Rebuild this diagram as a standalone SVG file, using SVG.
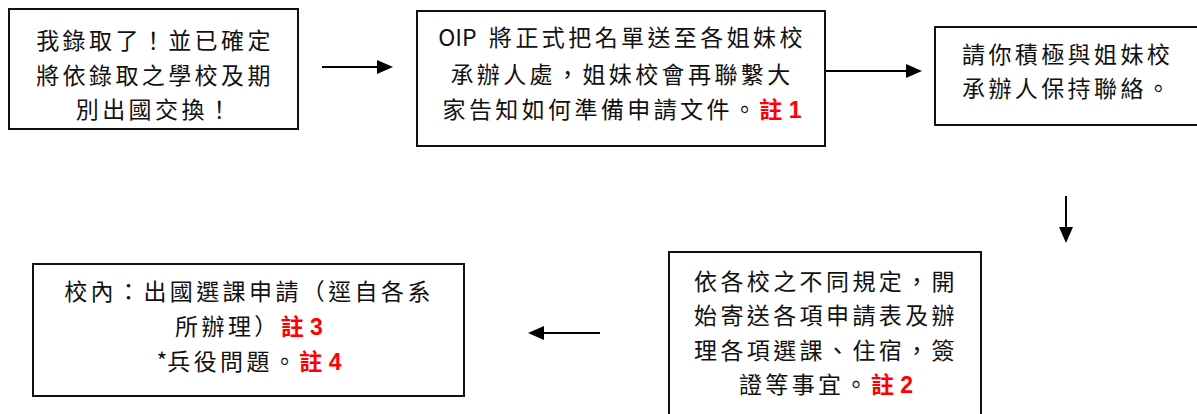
<svg xmlns="http://www.w3.org/2000/svg" width="1197" height="414" viewBox="0 0 1197 414">
<style>
.box{fill:#fff;stroke:#111;stroke-width:2}
.t{font-family:"Noto Sans CJK TC","Noto Sans CJK SC",sans-serif;font-size:23px;fill:#111;letter-spacing:3.4px}
.c{text-anchor:middle}
.n{fill:#f00;font-weight:bold;font-family:"Liberation Sans","Noto Sans CJK TC",sans-serif;letter-spacing:0}
.l{letter-spacing:0}
.ln{stroke:#000;stroke-width:2;fill:none}
</style>
<defs>
<marker id="ah" viewBox="0 0 16 14" markerWidth="16" markerHeight="14" refX="8" refY="7" orient="auto" markerUnits="userSpaceOnUse">
<path d="M0,0 L16,7 L0,14 z" fill="#000"/>
</marker>
</defs>
<rect width="1197" height="414" fill="#fff"/>
<g id="n1">
<rect class="box" x="9" y="9" width="289" height="120"/>
<text class="t c" x="155" y="49">我錄取了！並已確定</text>
<text class="t c" x="155" y="84">將依錄取之學校及期</text>
<text class="t c" x="155" y="118">別出國交換！</text>
</g>
<g id="n2">
<rect class="box" x="417" y="11" width="408" height="135"/>
<text class="t c" x="622" y="46"><tspan class="l">OIP</tspan><tspan dx="4"> </tspan>將正式把名單送至各姐妹校</text>
<text class="t c" x="622" y="83">承辦人處，姐妹校會再聯繫大</text>
<text class="t c" x="622" y="118">家告知如何準備申請文件。<tspan class="n">註 1</tspan></text>
</g>
<g id="n3">
<rect class="box" x="935" y="27" width="270" height="98"/>
<text class="t" x="962" y="63">請你積極與姐妹校</text>
<text class="t" x="962" y="97">承辦人保持聯絡。</text>
</g>
<g id="n4">
<rect class="box" x="669" y="252" width="312" height="170"/>
<text class="t c" x="826" y="290">依各校之不同規定，開</text>
<text class="t c" x="826" y="324">始寄送各項申請表及辦</text>
<text class="t c" x="826" y="359">理各項選課、住宿，簽</text>
<text class="t c" x="826" y="393">證等事宜。<tspan class="n">註 2</tspan></text>
</g>
<g id="n5">
<rect class="box" x="33" y="264" width="431" height="132"/>
<text class="t c" x="249" y="300">校內：出國選課申請（逕自各系</text>
<text class="t c" x="249" y="335">所辦理）<tspan class="n">註 3</tspan></text>
<text class="t c" x="249" y="370"><tspan class="l">*</tspan>兵役問題。<tspan class="n">註 4</tspan></text>
</g>
<g id="connectors">
<line class="ln" x1="322" y1="67" x2="385" y2="67" marker-end="url(#ah)"/>
<line class="ln" x1="826" y1="71" x2="914" y2="71" marker-end="url(#ah)"/>
<line class="ln" x1="1066" y1="196" x2="1066" y2="235" marker-end="url(#ah)"/>
<line class="ln" x1="600" y1="333" x2="536" y2="333" marker-end="url(#ah)"/>
</g>
</svg>
